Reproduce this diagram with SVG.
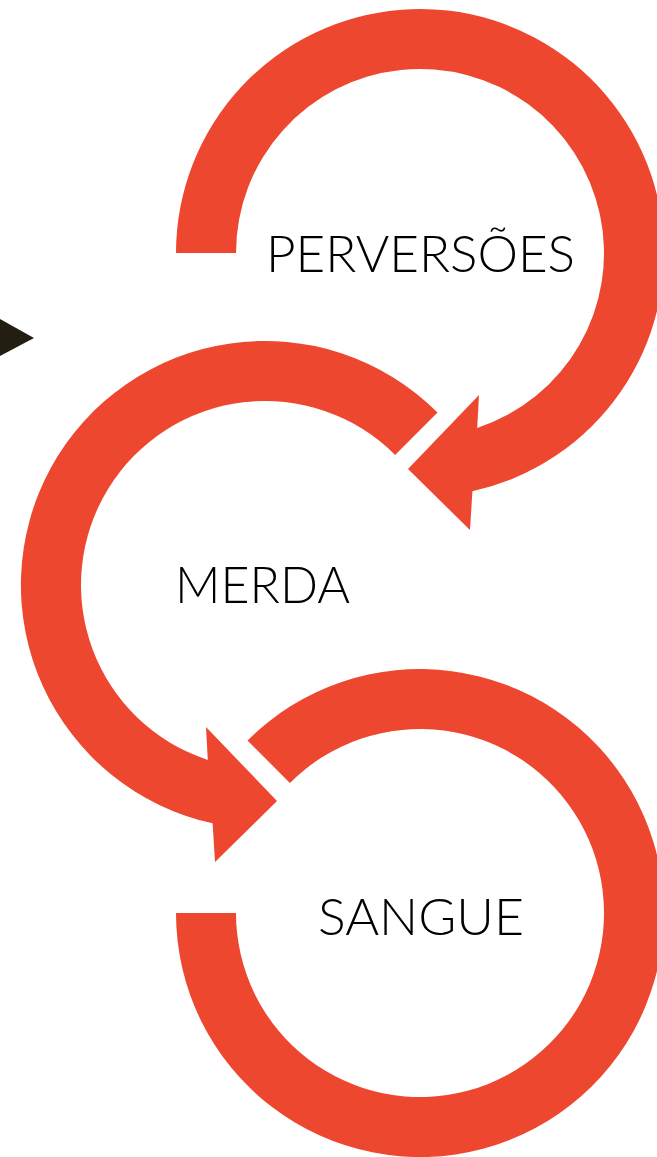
<svg xmlns="http://www.w3.org/2000/svg" width="657" height="1157" viewBox="0 0 657 1157">
<style>
.arc{fill:#EE4730;stroke:none}
.lbl{font-family:Lato,"Liberation Sans",sans-serif;font-size:51px;fill:#000;font-weight:300}
</style>
<rect width="657" height="1157" fill="#fff"/>
<g id="marker">
<polygon points="0,319 34,338 0,356" fill="#221F12"/>
</g>
<g id="connectors">
<path id="arc-perversoes" class="arc" d="M 176 253 A 244 244 0 1 1 472.4 491.3 L 470 530 L 408 469 L 479 395 L 477.2 427.9 A 184 184 0 1 0 236 253 Z"/>
<path id="arc-merda" class="arc" d="M 437.5 412.5 A 244 244 0 1 0 212.6 823.3 L 215 862 L 277 801 L 206 727 L 207.8 759.9 A 184 184 0 1 1 395.1 454.9 Z"/>
<path id="arc-sangue" class="arc" d="M 247.5 740.5 A 244 244 0 1 1 176 913 L 236 913 A 184 184 0 1 0 289.9 782.9 Z"/>
</g>
<g id="node-perversoes">
<text class="lbl" x="266" y="272" textLength="309" lengthAdjust="spacingAndGlyphs">PERVERSÕES</text>
</g>
<g id="node-merda">
<text class="lbl" x="175" y="603" textLength="175" lengthAdjust="spacingAndGlyphs">MERDA</text>
</g>
<g id="node-sangue">
<text class="lbl" x="318" y="935" textLength="206" lengthAdjust="spacingAndGlyphs">SANGUE</text>
</g>
</svg>
